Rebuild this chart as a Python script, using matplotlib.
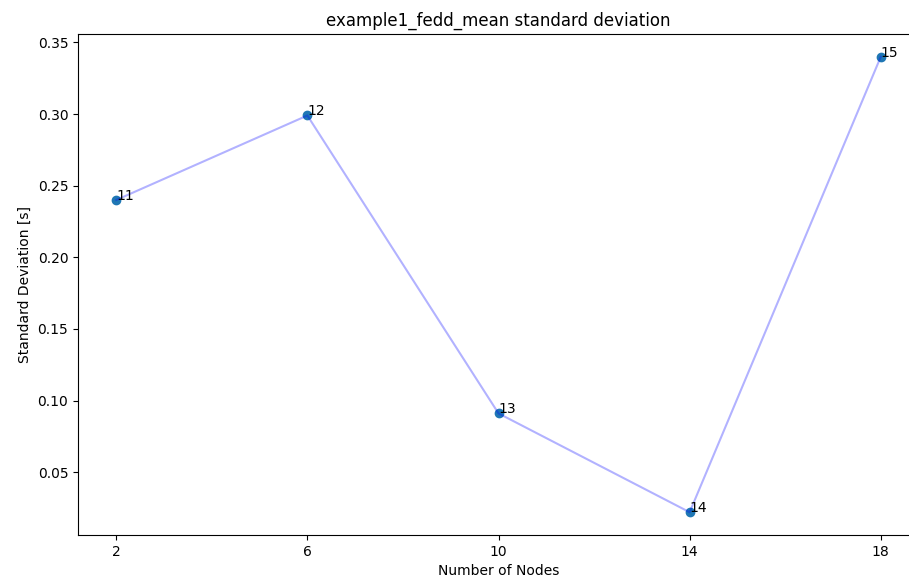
import matplotlib.pyplot as plt

nodes = [2, 6, 10, 14, 18]
std_dev = [0.240, 0.299, 0.091, 0.022, 0.340]
labels = ['11', '12', '13', '14', '15']

fig = plt.figure(figsize=(9.09, 5.82), dpi=100)
ax = fig.add_axes([78 / 909, 1 - 535 / 582, (919 - 78) / 909, (535 - 34) / 582])
ax.plot(nodes, std_dev, color='b', alpha=0.3)
ax.scatter(nodes, std_dev)
for x, y, lab in zip(nodes, std_dev, labels):
    ax.annotate(lab, (x, y))
ax.set_xticks(nodes)
ax.set_xlabel('Number of Nodes')
ax.set_ylabel('Standard Deviation [s]')
ax.set_title('example1_fedd_mean standard deviation')
fig.savefig('out.png', dpi=100)
